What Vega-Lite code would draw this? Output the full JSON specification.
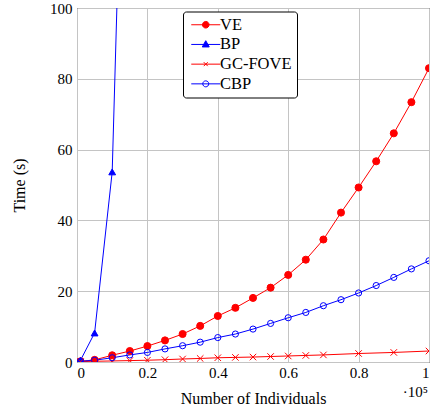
{
  "$schema": "https://vega.github.io/schema/vega-lite/v6.json",
  "autosize": {"type": "none"},
  "padding": {"left": 77, "top": 8, "right": 1, "bottom": 52},
  "width": 352,
  "height": 354,
  "background": "white",
  "config": {
    "view": {"stroke": "black", "strokeWidth": 1},
    "font": "Liberation Serif",
    "axis": {
      "labelFont": "Liberation Serif",
      "labelFontSize": 15,
      "labelColor": "black",
      "titleFont": "Liberation Serif",
      "titleFontSize": 16,
      "titleFontWeight": "normal",
      "titleColor": "black",
      "gridColor": "#c4c4c4",
      "gridWidth": 1,
      "domain": false,
      "ticks": false
    },
    "legend": {
      "labelFont": "Liberation Serif",
      "labelFontSize": 16.5,
      "labelColor": "black",
      "title": null,
      "orient": "none",
      "legendX": 106,
      "legendY": 3.5,
      "padding": 5,
      "rowPadding": 2.7,
      "symbolSize": 100,
      "symbolStrokeWidth": 1,
      "symbolOffset": 9.5,
      "labelOffset": 6,
      "strokeColor": "black",
      "fillColor": "white",
      "cornerRadius": 3
    }
  },
  "resolve": {"scale": {"shape": "independent", "fill": "independent", "stroke": "independent", "size": "independent"}},
  "datasets": {
    "times": [
      {"series": "VE", "n": 0.01, "t": 0.2},
      {"series": "VE", "n": 0.05, "t": 0.6},
      {"series": "VE", "n": 0.10, "t": 1.9},
      {"series": "VE", "n": 0.15, "t": 3.1},
      {"series": "VE", "n": 0.20, "t": 4.5},
      {"series": "VE", "n": 0.25, "t": 6.1},
      {"series": "VE", "n": 0.30, "t": 7.9},
      {"series": "VE", "n": 0.35, "t": 10.2},
      {"series": "VE", "n": 0.40, "t": 13.0},
      {"series": "VE", "n": 0.45, "t": 15.3},
      {"series": "VE", "n": 0.50, "t": 18.1},
      {"series": "VE", "n": 0.55, "t": 21.0},
      {"series": "VE", "n": 0.60, "t": 24.6},
      {"series": "VE", "n": 0.65, "t": 28.9},
      {"series": "VE", "n": 0.70, "t": 34.6},
      {"series": "VE", "n": 0.75, "t": 42.2},
      {"series": "VE", "n": 0.80, "t": 49.3},
      {"series": "VE", "n": 0.85, "t": 56.7},
      {"series": "VE", "n": 0.90, "t": 64.6},
      {"series": "VE", "n": 0.95, "t": 73.4},
      {"series": "VE", "n": 1.00, "t": 83.0},
      {"series": "BP", "n": 0.01, "t": 0.5},
      {"series": "BP", "n": 0.05, "t": 8.2},
      {"series": "BP", "n": 0.10, "t": 53.7},
      {"series": "BP", "n": 0.15, "t": 228},
      {"series": "GC-FOVE", "n": 0.01, "t": 0.1},
      {"series": "GC-FOVE", "n": 0.05, "t": 0.2},
      {"series": "GC-FOVE", "n": 0.10, "t": 0.3},
      {"series": "GC-FOVE", "n": 0.15, "t": 0.4},
      {"series": "GC-FOVE", "n": 0.20, "t": 0.5},
      {"series": "GC-FOVE", "n": 0.25, "t": 0.65},
      {"series": "GC-FOVE", "n": 0.30, "t": 0.85},
      {"series": "GC-FOVE", "n": 0.35, "t": 1.0},
      {"series": "GC-FOVE", "n": 0.40, "t": 1.2},
      {"series": "GC-FOVE", "n": 0.45, "t": 1.3},
      {"series": "GC-FOVE", "n": 0.50, "t": 1.4},
      {"series": "GC-FOVE", "n": 0.55, "t": 1.55},
      {"series": "GC-FOVE", "n": 0.60, "t": 1.7},
      {"series": "GC-FOVE", "n": 0.65, "t": 1.85},
      {"series": "GC-FOVE", "n": 0.70, "t": 2.0},
      {"series": "GC-FOVE", "n": 0.80, "t": 2.4},
      {"series": "GC-FOVE", "n": 0.90, "t": 2.7},
      {"series": "GC-FOVE", "n": 1.00, "t": 3.1},
      {"series": "CBP", "n": 0.01, "t": 0.2},
      {"series": "CBP", "n": 0.05, "t": 0.5},
      {"series": "CBP", "n": 0.10, "t": 1.2},
      {"series": "CBP", "n": 0.15, "t": 2.0},
      {"series": "CBP", "n": 0.20, "t": 2.7},
      {"series": "CBP", "n": 0.25, "t": 3.7},
      {"series": "CBP", "n": 0.30, "t": 4.6},
      {"series": "CBP", "n": 0.35, "t": 5.6},
      {"series": "CBP", "n": 0.40, "t": 6.9},
      {"series": "CBP", "n": 0.45, "t": 7.9},
      {"series": "CBP", "n": 0.50, "t": 9.3},
      {"series": "CBP", "n": 0.55, "t": 10.9},
      {"series": "CBP", "n": 0.60, "t": 12.5},
      {"series": "CBP", "n": 0.65, "t": 14.0},
      {"series": "CBP", "n": 0.70, "t": 15.9},
      {"series": "CBP", "n": 0.75, "t": 17.6},
      {"series": "CBP", "n": 0.80, "t": 19.5},
      {"series": "CBP", "n": 0.85, "t": 21.6},
      {"series": "CBP", "n": 0.90, "t": 23.9},
      {"series": "CBP", "n": 0.95, "t": 26.3},
      {"series": "CBP", "n": 1.00, "t": 28.6}
    ],
    "note": [{"label": "·10⁵"}]
  },
  "layer": [
    {
      "data": {"name": "times"},
      "mark": {"type": "line", "strokeWidth": 1, "clip": true},
      "encoding": {
        "x": {
          "field": "n", "type": "quantitative",
          "scale": {"domain": [0, 1], "nice": false, "zero": false},
          "axis": {"values": [0, 0.2, 0.4, 0.6, 0.8, 1], "format": "", "title": "Number of Individuals", "labelFont": "Liberation Serif", "labelFontSize": 15, "labelPadding": 3, "titlePadding": 10, "grid": true}
        },
        "y": {
          "field": "t", "type": "quantitative",
          "scale": {"domain": [0, 100], "nice": false},
          "axis": {"values": [0, 20, 40, 60, 80, 100], "title": "Time (s)", "labelFont": "Liberation Serif", "labelFontSize": 15, "labelPadding": 5, "titlePadding": 22, "grid": true}
        },
        "color": {
          "field": "series", "type": "nominal",
          "scale": {"domain": ["VE", "BP", "GC-FOVE", "CBP"], "range": ["#ff0000", "#0000ff", "#ff0000", "#0000ff"]},
          "legend": null
        }
      }
    },
    {
      "data": {"name": "times"},
      "mark": {"type": "point", "strokeWidth": 1, "opacity": 1, "clip": true},
      "encoding": {
        "x": {"field": "n", "type": "quantitative"},
        "y": {"field": "t", "type": "quantitative"},
        "shape": {
          "field": "series", "type": "nominal",
          "scale": {"domain": ["VE", "BP", "GC-FOVE", "CBP"], "range": ["circle", "triangle-up", "M-1,-1L1,1M-1,1L1,-1", "circle"]},
          "legend": null
        },
        "fill": {
          "field": "series", "type": "nominal",
          "scale": {"domain": ["VE", "BP", "GC-FOVE", "CBP"], "range": ["#ff0000", "#0000ff", "transparent", "transparent"]},
          "legend": null
        },
        "stroke": {
          "field": "series", "type": "nominal",
          "scale": {"domain": ["VE", "BP", "GC-FOVE", "CBP"], "range": ["#ff0000", "#0000ff", "#ff0000", "#0000ff"]},
          "legend": null
        },
        "size": {
          "field": "series", "type": "nominal",
          "scale": {"domain": ["VE", "BP", "GC-FOVE", "CBP"], "range": [50, 38, 16, 36]},
          "legend": null
        }
      }
    },
    {
      "data": {"name": "times"},
      "transform": [{"filter": "datum.n > 5"}],
      "mark": {"type": "point", "strokeWidth": 1, "opacity": 1},
      "encoding": {
        "x": {"field": "n", "type": "quantitative"},
        "y": {"field": "t", "type": "quantitative"},
        "shape": {
          "field": "series", "type": "nominal",
          "scale": {"domain": ["VE", "BP", "GC-FOVE", "CBP"], "range": [
            "M-2.9,0H2.9M-0.66,0A0.66,0.66,0,1,1,0.66,0A0.66,0.66,0,1,1,-0.66,0Z",
            "M-2.9,0H2.9M0,-0.75L0.7,0.5L-0.7,0.5Z",
            "M-2.9,0H2.9M-0.4,-0.4L0.4,0.4M-0.4,0.4L0.4,-0.4",
            "M-2.9,0H2.9M-0.6,0A0.6,0.6,0,1,1,0.6,0A0.6,0.6,0,1,1,-0.6,0Z"
          ]}
        },
        "fill": {
          "field": "series", "type": "nominal",
          "scale": {"domain": ["VE", "BP", "GC-FOVE", "CBP"], "range": ["#ff0000", "#0000ff", "transparent", "transparent"]}
        },
        "stroke": {
          "field": "series", "type": "nominal",
          "scale": {"domain": ["VE", "BP", "GC-FOVE", "CBP"], "range": ["#ff0000", "#0000ff", "#ff0000", "#0000ff"]}
        }
      }
    },
    {
      "data": {"name": "note"},
      "mark": {"type": "text", "align": "right", "baseline": "alphabetic", "dx": -1, "dy": 35, "fontSize": 15, "font": "Liberation Serif", "color": "black"},
      "encoding": {
        "x": {"datum": 1, "type": "quantitative"},
        "y": {"datum": 0, "type": "quantitative"},
        "text": {"field": "label"}
      }
    }
  ]
}
